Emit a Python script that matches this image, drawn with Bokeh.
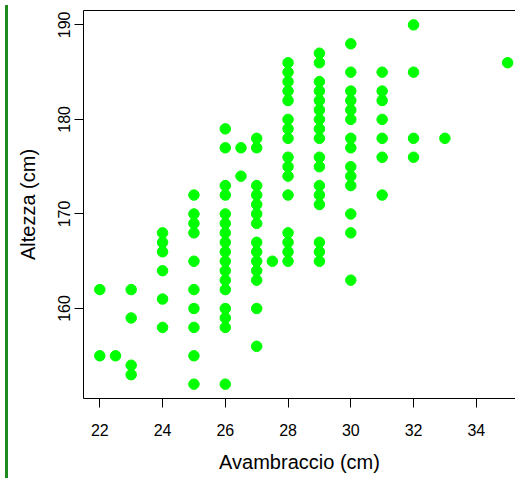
from bokeh.plotting import figure
from bokeh.models import Range1d, FixedTicker, LinearAxis, Div
from bokeh.layouts import row
from bokeh.embed import file_html
from bokeh.resources import INLINE

avambraccio = [22, 22,
               22.5,
               23, 23, 23, 23,
               24, 24, 24, 24, 24, 24,
               25, 25, 25, 25, 25, 25, 25, 25, 25, 25,
               26, 26, 26, 26, 26, 26, 26, 26, 26, 26, 26, 26, 26, 26, 26, 26, 26,
               26.5, 26.5,
               27, 27, 27, 27, 27, 27, 27, 27, 27, 27, 27, 27, 27, 27,
               27.5,
               28, 28, 28, 28, 28, 28, 28, 28, 28, 28, 28, 28, 28, 28, 28, 28,
               29, 29, 29, 29, 29, 29, 29, 29, 29, 29, 29, 29, 29, 29, 29, 29, 29,
               30, 30, 30, 30, 30, 30, 30, 30, 30, 30, 30, 30, 30, 30,
               31, 31, 31, 31, 31, 31, 31,
               32, 32, 32, 32,
               33,
               35]
altezza = [162, 155,
           155,
           162, 159, 154, 153,
           168, 167, 166, 164, 161, 158,
           172, 170, 169, 168, 165, 162, 160, 158, 155, 152,
           179, 177, 173, 172, 170, 169, 168, 167, 166, 165, 164, 163, 162, 160, 159, 158, 152,
           177, 174,
           178, 177, 173, 172, 171, 170, 169, 167, 166, 165, 164, 163, 160, 156,
           165,
           186, 185, 184, 183, 182, 180, 179, 178, 176, 175, 174, 172, 168, 167, 166, 165,
           187, 186, 184, 183, 182, 181, 180, 179, 178, 176, 175, 173, 172, 171, 167, 166, 165,
           188, 185, 183, 182, 181, 180, 178, 177, 175, 174, 173, 170, 168, 163,
           185, 183, 182, 180, 178, 176, 172,
           190, 185, 178, 176,
           178,
           186]
x_ticks = [22, 24, 26, 28, 30, 32, 34]
y_ticks = [160, 170, 180, 190]
x_label = "Avambraccio (cm)"
y_label = "Altezza (cm)"

FONT = "Liberation Sans"

p = figure(frame_width=432, frame_height=388, output_backend="svg", toolbar_location=None,
           x_range=Range1d(21.48, 35.25), y_range=Range1d(150.48, 191.52),
           min_border_left=0, min_border_right=0, min_border_top=10, min_border_bottom=0)
p.background_fill_color = "white"
p.border_fill_color = "white"
p.outline_line_color = None
p.grid.visible = False

p.scatter(avambraccio, altezza, size=10.5, color="#00ff00", line_color="#00ff00")

for ax in (p.xaxis[0], p.yaxis[0]):
    ax.minor_tick_line_color = None
    ax.major_tick_in = 0
    ax.major_tick_out = 9
    ax.axis_line_color = "black"
    ax.major_tick_line_color = "black"
    ax.major_label_text_font = FONT
    ax.major_label_text_font_size = "16px"
    ax.major_label_text_color = "black"
    ax.axis_label_text_font = FONT
    ax.axis_label_text_font_size = "20px"
    ax.axis_label_text_font_style = "normal"
    ax.axis_label_text_color = "black"

p.xaxis[0].ticker = FixedTicker(ticks=x_ticks)
p.yaxis[0].ticker = FixedTicker(ticks=y_ticks)
p.xaxis[0].axis_label = x_label
p.yaxis[0].axis_label = y_label
p.xaxis[0].major_label_standoff = 16
p.xaxis[0].axis_label_standoff = 12
p.yaxis[0].major_label_standoff = 4
p.yaxis[0].axis_label_standoff = 17
p.yaxis[0].major_label_orientation = "vertical"

top = LinearAxis(ticker=FixedTicker(ticks=[]), major_tick_out=0, major_tick_in=0,
                 minor_tick_out=0, minor_tick_in=0, major_label_text_font_size="0px",
                 axis_line_color="black")
p.add_layout(top, "above")

bar = Div(text="", width=3, height=473, styles={"background-color": "#1f8a1f"})
layout = row(bar, p)

open("out.html", "w").write(file_html(layout, INLINE))
